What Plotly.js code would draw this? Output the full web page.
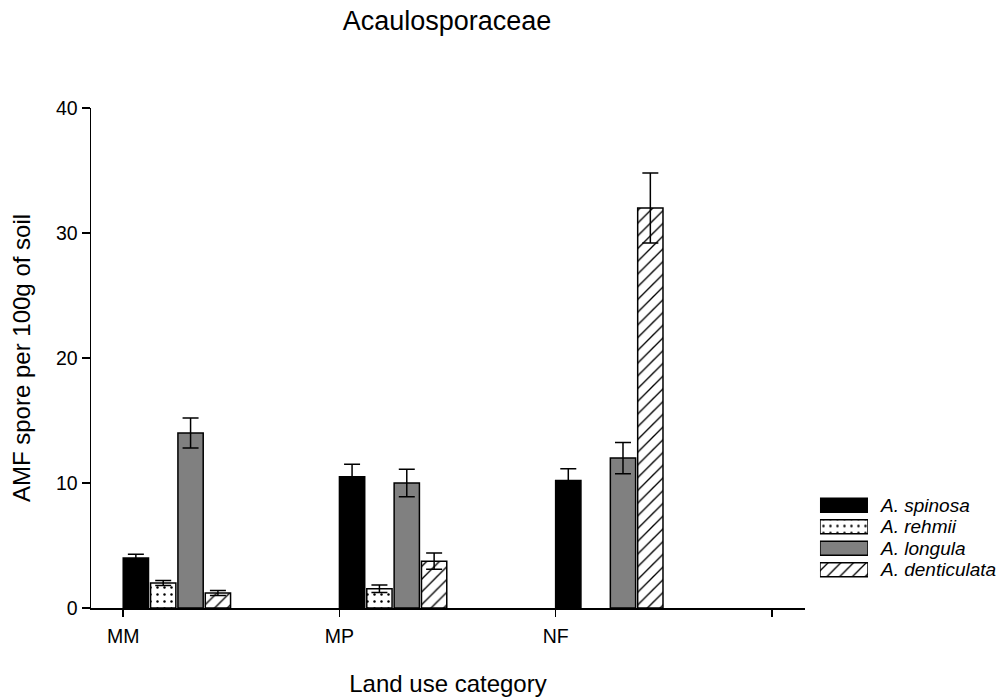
<!DOCTYPE html>
<html>
<head>
<meta charset="utf-8">
<script src="https://cdn.plot.ly/plotly-3.0.1.min.js"></script>
<style>html,body{margin:0;padding:0;background:#fff;}#chart{width:1001px;height:698px;}</style>
</head>
<body>
<div id="chart"></div>
<script>
// ---- data ----
const categories = ['MM', 'MP', 'NF'];
const tickLabels = ['MM', 'MP', 'NF', ''];
const seriesNames = ['A. spinosa', 'A. rehmii', 'A. longula', 'A. denticulata'];
const spinosa = [4.0, 10.5, 10.2];
const spinosaErr = [0.3, 1.0, 0.95];
const rehmii = [2.0, 1.55, null];
const rehmiiErr = [0.2, 0.3, null];
const longula = [14.0, 10.0, 12.0];
const longulaErr = [1.2, 1.1, 1.25];
const denticulata = [1.2, 3.75, 32.0];
const denticulataErr = [0.2, 0.65, 2.8];

// ---- styling ----
const FONT = 'Liberation Sans, Arial, sans-serif';
const values = [spinosa, rehmii, longula, denticulata];
const errors = [spinosaErr, rehmiiErr, longulaErr, denticulataErr];
const markers = [
  {color: '#000000', line: {color: '#000', width: 1.5}},
  {color: '#ffffff', line: {color: '#000', width: 1.5},
   pattern: {shape: '.', fgcolor: '#000', bgcolor: '#fff', size: 7, solidity: 0.1}},
  {color: '#808080', line: {color: '#000', width: 1.5}},
  {color: '#ffffff', line: {color: '#000', width: 1.5},
   pattern: {shape: '/', fgcolor: '#000', bgcolor: '#fff', size: 9, solidity: 0.15}}
];
const pitch = 0.1265, barW = 0.117;
const xIdx = categories.map((c, i) => i);

const traces = [];
seriesNames.forEach((name, s) => {
  traces.push({
    type: 'bar', name: name, x: xIdx, y: values[s],
    offset: s * pitch, width: barW,
    marker: markers[s],
    error_y: {type: 'data', array: errors[s], visible: true, color: '#000', thickness: 1.5, width: 8},
    showlegend: false, hoverinfo: 'skip'
  });
});
// legend swatches
seriesNames.forEach((name, s) => {
  traces.push({
    type: 'bar', orientation: 'h', x: [1], y: [s], base: 0, width: 0.65,
    xaxis: 'x2', yaxis: 'y2', marker: markers[s], showlegend: false, hoverinfo: 'skip'
  });
});

const annotations = seriesNames.map((name, s) => ({
  text: '<i>' + name + '</i>', x: 0.8687, xref: 'paper', y: s, yref: 'y2',
  xanchor: 'left', yanchor: 'middle', showarrow: false,
  font: {family: FONT, size: 19, color: '#000'}
}));

const layout = {
  width: 1001, height: 698,
  margin: {l: 91, r: 4, t: 108, b: 90},
  paper_bgcolor: '#fff', plot_bgcolor: '#fff',
  barmode: 'overlay',
  font: {family: FONT, color: '#000'},
  title: {text: 'Acaulosporaceae', font: {family: FONT, size: 27, color: '#000'},
          xref: 'paper', x: 0.393, xanchor: 'center', yref: 'container', y: 0.97, yanchor: 'middle'},
  xaxis: {
    domain: [0, 0.788], range: [-0.149, 3.153],
    tickmode: 'array', tickvals: [0, 1, 2, 3], ticktext: tickLabels,
    ticks: 'outside', ticklen: 7, tickwidth: 1.5, tickcolor: '#000',
    ticklabelstandoff: 3,
    showline: true, linecolor: '#000', linewidth: 1.5,
    showgrid: false, zeroline: false,
    tickfont: {family: FONT, size: 19.5, color: '#000'},
    title: {text: 'Land use category', font: {family: FONT, size: 24, color: '#000'}, standoff: 29},
    fixedrange: true
  },
  yaxis: {
    range: [0, 40], tickmode: 'array', tickvals: [0, 10, 20, 30, 40],
    ticks: 'outside', ticklen: 8, tickwidth: 1.5, tickcolor: '#000',
    showline: true, linecolor: '#000', linewidth: 1.5,
    showgrid: false, zeroline: false,
    tickfont: {family: FONT, size: 19.5, color: '#000'},
    title: {text: 'AMF spore per 100g of soil', font: {family: FONT, size: 24, color: '#000'}, standoff: 18},
    fixedrange: true
  },
  xaxis2: {domain: [0.8046, 0.8576], range: [0, 1], anchor: 'y2', visible: false, fixedrange: true},
  yaxis2: {domain: [0.055, 0.227], range: [3.5, -0.5], anchor: 'x2', visible: false, fixedrange: true},
  annotations: annotations,
  showlegend: false
};

Plotly.newPlot('chart', traces, layout, {displayModeBar: false, staticPlot: true});
</script>
</body>
</html>
